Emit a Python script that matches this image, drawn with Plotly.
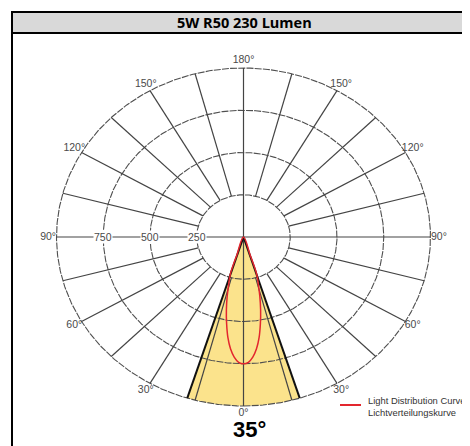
import numpy as np
import plotly.graph_objects as go

# ---------------- data ----------------
title_text = "5W R50 230 Lumen"
beam_angle = 35  # degrees (full beam)
beam_label = "35°"
ring_values = [250, 500, 750, 1000]
radial_tick_values = [250, 500, 750]
radial_tick_labels = ["250", "500", "750"]
spoke_angles = [15, 30, 45, 60, 75, 105, 120, 135, 150, 165]
angle_label_values = [0, 30, 60, 90, 120, 150, 180]
angle_label_texts = ["0°", "30°", "60°", "90°", "120°", "150°", "180°"]
# light distribution curve (half profile, symmetric), angle from nadir in degrees
curve_angles = [0, 2, 4, 6, 8, 10, 12, 14, 16, 17, 18, 18.5, 19]
curve_intensity = [750, 742, 712, 665, 600, 520, 440, 360, 285, 255, 220, 110, 0]
legend_lines = ["Light Distribution Curve", "Lichtverteilungskurve"]

R_MAX = 1000
LABEL_R = 1045

# ---------------- helpers ----------------
def to_xy(r, deg):
    t = np.radians(deg)
    return np.asarray(r) * np.sin(t), -np.asarray(r) * np.cos(t)

fig = go.Figure()

# yellow beam cone
half = beam_angle / 2
arc = np.linspace(-half, half, 60)
ax_, ay_ = to_xy(R_MAX, arc)
fig.add_trace(go.Scatter(x=np.r_[0, ax_, 0], y=np.r_[0, ay_, 0], mode="lines",
                         fill="toself", fillcolor="#FBE38C", line=dict(width=0),
                         hoverinfo="skip", showlegend=False))

# rings
th = np.linspace(0, 360, 721)
for rv in ring_values:
    x, y = to_xy(rv, th)
    fig.add_trace(go.Scatter(x=x, y=y, mode="lines",
                             line=dict(color="#4f4f4f", width=1.1, dash="7px,1.2px"),
                             hoverinfo="skip", showlegend=False))

# spokes (from inner ring to outer ring) on both sides
for a in spoke_angles:
    for s in (-1, 1):
        x, y = to_xy([ring_values[0], R_MAX], [s * a, s * a])
        fig.add_trace(go.Scatter(x=x, y=y, mode="lines",
                                 line=dict(color="#444444", width=1.2),
                                 hoverinfo="skip", showlegend=False))
# main axes through centre
for a in (0, 90, 180, -90):
    x, y = to_xy([0, R_MAX], [a, a])
    fig.add_trace(go.Scatter(x=x, y=y, mode="lines",
                             line=dict(color="#444444", width=1.2),
                             hoverinfo="skip", showlegend=False))

# black beam edges
for s in (-1, 1):
    x, y = to_xy([0, R_MAX], [s * half, s * half])
    fig.add_trace(go.Scatter(x=x, y=y, mode="lines",
                             line=dict(color="#111111", width=2),
                             hoverinfo="skip", showlegend=False))

# light distribution curve
ca = np.array(curve_angles, dtype=float)
ci = np.array(curve_intensity, dtype=float)
full_a = np.r_[-ca[::-1], ca[1:]]
full_i = np.r_[ci[::-1], ci[1:]]
cx, cy = to_xy(full_i, full_a)
fig.add_trace(go.Scatter(x=cx, y=cy, mode="lines", line=dict(color="#E3262E", width=1.5),
                         line_shape="spline", hoverinfo="skip", showlegend=False))

# angle labels
lx, ly, lt = [], [], []
for v, t in zip(angle_label_values, angle_label_texts):
    sides = (1,) if v in (0, 180) else (-1, 1)
    for s in sides:
        x, y = to_xy(LABEL_R, s * v)
        lx.append(float(x)); ly.append(float(y)); lt.append(t)
fig.add_trace(go.Scatter(x=lx, y=ly, mode="text", text=lt,
                         textfont=dict(family="Liberation Sans, Arial", size=10.5, color="#4a4a4a"),
                         hoverinfo="skip", showlegend=False))

# radial tick labels on the horizontal axis (left)
for v, t in zip(radial_tick_values, radial_tick_labels):
    x, y = to_xy(v, -90)
    fig.add_annotation(x=float(x), y=float(y), text=t, showarrow=False,
                       bgcolor="white", borderpad=0, xanchor="center", yanchor="middle",
                       font=dict(family="Liberation Sans, Arial", size=10.5, color="#4a4a4a"))

# ---------------- layout / frame ----------------
OFF = 8  # page body margin
W, H = 470 - OFF, 446 - OFF
# pixel mapping of the diagram (centre and scale), in page pixels
CX, CY, SX, SY = 243.5 - OFF, 237.0 - OFF, 0.187, 0.169
xr = [-CX / SX, (W - CX) / SX]
yr = [-(H - CY) / SY, CY / SY]

fig.update_layout(
    width=W, height=H, margin=dict(l=0, r=0, t=0, b=0),
    paper_bgcolor="white", plot_bgcolor="white",
    xaxis=dict(range=xr, visible=False, fixedrange=True),
    yaxis=dict(range=yr, visible=False, fixedrange=True),
    showlegend=False,
)

def px(xp):
    return (xp - OFF) / W

def py(yp):
    return 1 - (yp - OFF) / H

# title band
fig.add_shape(type="rect", xref="paper", yref="paper", x0=px(12), x1=px(476),
              y0=py(33), y1=py(12), fillcolor="#D9D9D9", line=dict(color="black", width=2))
# left frame line
fig.add_shape(type="line", xref="paper", yref="paper", x0=px(12), x1=px(12),
              y0=py(33), y1=py(452), line=dict(color="black", width=2))
fig.add_annotation(xref="paper", yref="paper", x=px(244), y=py(22.5), xanchor="center", yanchor="middle",
                   text="<b>" + title_text + "</b>", showarrow=False,
                   font=dict(family="Open Sans, Lato", size=14.5, color="black"))

# beam angle text
fig.add_annotation(xref="paper", yref="paper", x=px(249), y=py(429), xanchor="center", yanchor="middle",
                   text="<b>" + beam_label + "</b>", showarrow=False,
                   font=dict(family="Liberation Sans, Arial", size=22, color="black"))

# legend
fig.add_shape(type="line", xref="paper", yref="paper", x0=px(340), x1=px(361),
              y0=py(405), y1=py(405), line=dict(color="#E3262E", width=2))
fig.add_annotation(xref="paper", yref="paper", x=px(366), y=py(406.5), xanchor="left", yanchor="middle",
                   align="left", text="<br>".join(legend_lines), showarrow=False,
                   font=dict(family="Liberation Sans, Arial", size=9.4, color="#333333"))

fig.write_html("out.html")
